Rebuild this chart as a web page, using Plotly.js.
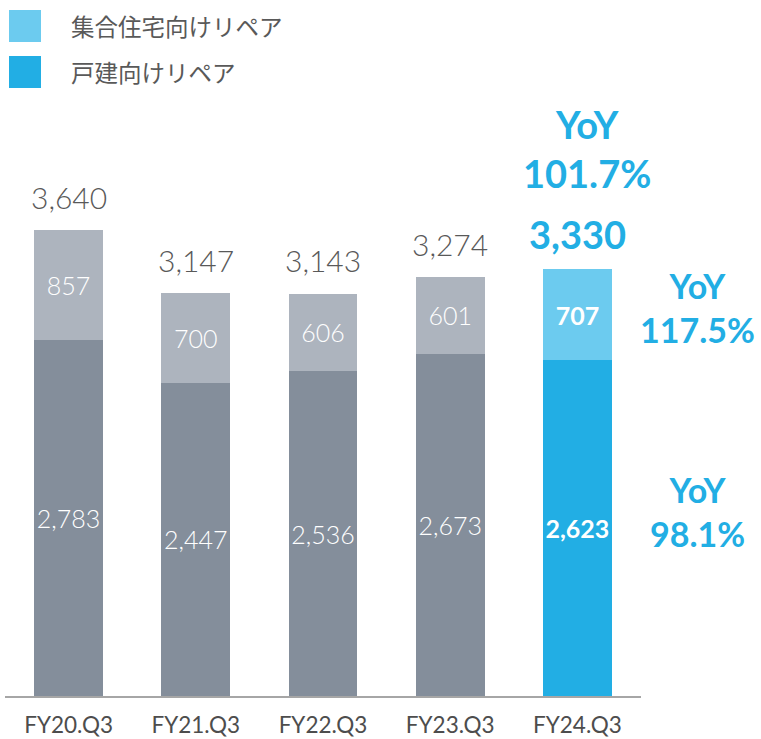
<!DOCTYPE html>
<html>
<head>
<meta charset="utf-8">
<script src="https://cdn.plot.ly/plotly-3.0.1.min.js"></script>
<style>html,body{margin:0;padding:0;background:#fff;}#chart{width:761px;height:739px;}</style>
</head>
<body>
<div id="chart"></div>
<script>
const categories = ['FY20.Q3', 'FY21.Q3', 'FY22.Q3', 'FY23.Q3', 'FY24.Q3'];
const detachedRepair = [2783, 2447, 2536, 2673, 2623];
const multiRepair = [857, 700, 606, 601, 707];
const totals = [3640, 3147, 3143, 3274, 3330];
const seriesNames = ['集合住宅向けリペア', '戸建向けリペア'];
const yoyTotal = '101.7%';
const yoyMulti = '117.5%';
const yoyDetached = '98.1%';

const FONT = "Lato, 'Noto Sans CJK JP', sans-serif";
const BLUE = '#22aee4';
const LIGHTBLUE = '#6ccbef';
const GRAY_D = '#848e9b';
const GRAY_L = '#adb4be';
const TXT = '#595959';
const last = categories.length - 1;

const colD = categories.map((c, i) => i === last ? BLUE : GRAY_D);
const colM = categories.map((c, i) => i === last ? LIGHTBLUE : GRAY_L);
const weights = categories.map((c, i) => i === last ? 700 : 300);

const traceD = {
  type: 'bar', name: seriesNames[1], x: categories, y: detachedRepair,
  marker: {color: colD},
  texttemplate: '%{y:,}', textposition: 'inside', insidetextanchor: 'middle',
  textangle: 0, constraintext: 'none',
  textfont: {family: FONT, size: 25, color: '#ffffff', weight: weights},
  hoverinfo: 'skip'
};
const traceM = {
  type: 'bar', name: seriesNames[0], x: categories, y: multiRepair,
  marker: {color: colM},
  texttemplate: '%{y:,}', textposition: 'inside', insidetextanchor: 'middle',
  textangle: 0, constraintext: 'none',
  textfont: {family: FONT, size: 25, color: '#ffffff', weight: weights},
  hoverinfo: 'skip'
};

const annotations = [];
totals.forEach((t, i) => {
  const isLast = i === last;
  annotations.push({
    x: categories[i], y: t, xref: 'x', yref: 'y',
    text: t.toLocaleString('en-US'), showarrow: false,
    yanchor: 'middle', yshift: isLast ? 35 : 33,
    font: {family: FONT, size: isLast ? 38 : 30, color: isLast ? BLUE : TXT, weight: isLast ? 700 : 300}
  });
});
annotations.push({
  x: categories[last], y: totals[last], xref: 'x', yref: 'y',
  text: 'YoY<br>' + yoyTotal, showarrow: false, yanchor: 'middle',
  xshift: 10, yshift: 121,
  font: {family: FONT, size: 38, color: BLUE, weight: 700}
});
annotations.push({
  x: categories[last], y: detachedRepair[last] + multiRepair[last] / 2, xref: 'x', yref: 'y',
  text: 'YoY<br>' + yoyMulti, showarrow: false, yanchor: 'middle',
  xshift: 120, yshift: 7,
  font: {family: FONT, size: 34, color: BLUE, weight: 700}
});
annotations.push({
  x: categories[last], y: detachedRepair[last] / 2, xref: 'x', yref: 'y',
  text: 'YoY<br>' + yoyDetached, showarrow: false, yanchor: 'middle',
  xshift: 120, yshift: 17,
  font: {family: FONT, size: 34, color: BLUE, weight: 700}
});

// legend (custom large swatches)
const L = 5, PW = 636, T = 100, PH = 596;
const px = v => (v - L) / PW;
const py = v => (T + PH - v) / PH;
const shapes = [
  {type: 'rect', xref: 'paper', yref: 'paper', x0: px(9), x1: px(41), y0: py(42), y1: py(10), fillcolor: LIGHTBLUE, line: {width: 0}},
  {type: 'rect', xref: 'paper', yref: 'paper', x0: px(9), x1: px(41), y0: py(88), y1: py(56), fillcolor: BLUE, line: {width: 0}}
];
annotations.push({xref: 'paper', yref: 'paper', x: px(69), y: py(27), xanchor: 'left', yanchor: 'middle', showarrow: false,
  text: seriesNames[0], font: {family: FONT, size: 23.5, color: TXT}});
annotations.push({xref: 'paper', yref: 'paper', x: px(69), y: py(73), xanchor: 'left', yanchor: 'middle', showarrow: false,
  text: seriesNames[1], font: {family: FONT, size: 23.5, color: TXT}});

const layout = {
  width: 761, height: 739,
  margin: {l: L, r: 761 - L - PW, t: T, b: 739 - T - PH},
  paper_bgcolor: '#ffffff', plot_bgcolor: '#ffffff',
  barmode: 'stack', bargap: 0.458,
  showlegend: false,
  xaxis: {
    type: 'category', range: [-0.5, categories.length - 0.5], autorange: false,
    showline: true, linecolor: '#a6a6a6', linewidth: 2,
    showgrid: false, zeroline: false, ticks: '', ticklabelstandoff: 8,
    tickfont: {family: FONT, size: 22.5, color: '#4d4d4d'}
  },
  yaxis: {range: [0, 4653], autorange: false, visible: false, showgrid: false, zeroline: false},
  annotations: annotations,
  shapes: shapes
};

Plotly.newPlot('chart', [traceD, traceM], layout, {displayModeBar: false, staticPlot: true});
</script>
</body>
</html>
